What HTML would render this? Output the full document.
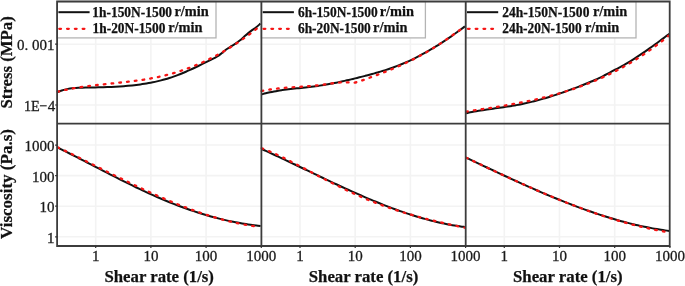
<!DOCTYPE html><html><head><meta charset="utf-8"><style>
html,body{margin:0;padding:0;background:#fff;width:685px;height:286px;overflow:hidden}
svg{display:block;will-change:transform;filter:blur(0.3px)}
text{font-family:"Liberation Serif",serif}
.tk{font-size:15px;fill:#1a1a1a;stroke:#1a1a1a;stroke-width:0.3px}
.ax{font-size:17.5px;font-weight:bold;fill:#111;stroke:#111;stroke-width:0.25px}
.lg{font-size:14px;font-weight:bold;fill:#111;stroke:#111;stroke-width:0.25px}
</style></head><body>
<svg width="685" height="286" viewBox="0 0 685 286">
<path d="M95.69,1.50V246.00 M150.89,1.50V246.00 M206.09,1.50V246.00 M57.10,44.20H261.30 M57.10,105.00H261.30 M57.10,145.07H261.30 M57.10,175.65H261.30 M57.10,206.22H261.30 M57.10,236.80H261.30 M299.99,1.50V246.00 M355.19,1.50V246.00 M410.39,1.50V246.00 M261.40,44.20H465.60 M261.40,105.00H465.60 M261.40,145.07H465.60 M261.40,175.65H465.60 M261.40,206.22H465.60 M261.40,236.80H465.60 M504.29,1.50V246.00 M559.49,1.50V246.00 M614.69,1.50V246.00 M465.70,44.20H669.90 M465.70,105.00H669.90 M465.70,145.07H669.90 M465.70,175.65H669.90 M465.70,206.22H669.90 M465.70,236.80H669.90" stroke="#f3f3f3" stroke-width="1.6" fill="none"/>
<rect x="57.10" y="1.50" width="158.90" height="36.40" fill="#fff" stroke="#b4b4b4" stroke-width="1.3"/>
<rect x="261.40" y="1.50" width="164.00" height="36.40" fill="#fff" stroke="#b4b4b4" stroke-width="1.3"/>
<rect x="465.70" y="1.50" width="170.30" height="36.40" fill="#fff" stroke="#b4b4b4" stroke-width="1.3"/>
<path d="M57.60,92.04 C58.29,91.78 60.36,90.94 61.74,90.50 C63.12,90.06 64.50,89.69 65.88,89.38 C67.26,89.06 68.64,88.82 70.02,88.61 C71.40,88.40 72.78,88.24 74.16,88.11 C75.54,87.98 76.91,87.90 78.29,87.83 C79.67,87.76 81.05,87.72 82.43,87.68 C83.81,87.64 85.19,87.63 86.57,87.61 C87.95,87.59 89.33,87.57 90.71,87.54 C92.09,87.52 93.47,87.49 94.85,87.46 C96.23,87.43 97.61,87.39 98.99,87.35 C100.37,87.31 101.75,87.27 103.13,87.22 C104.51,87.17 105.89,87.12 107.27,87.06 C108.65,87.00 110.02,86.95 111.40,86.89 C112.78,86.83 114.16,86.76 115.54,86.68 C116.92,86.61 118.30,86.53 119.68,86.44 C121.06,86.35 122.44,86.26 123.82,86.16 C125.20,86.06 126.58,85.94 127.96,85.82 C129.34,85.70 130.72,85.57 132.10,85.43 C133.48,85.29 134.86,85.14 136.24,84.97 C137.62,84.80 139.00,84.62 140.38,84.43 C141.76,84.24 143.13,84.03 144.51,83.81 C145.89,83.59 147.27,83.35 148.65,83.10 C150.03,82.85 151.41,82.58 152.79,82.29 C154.17,82.00 155.55,81.70 156.93,81.38 C158.31,81.06 159.69,80.72 161.07,80.36 C162.45,80.00 163.83,79.62 165.21,79.22 C166.59,78.82 167.97,78.40 169.35,77.96 C170.73,77.52 172.11,77.07 173.49,76.60 C174.87,76.12 176.24,75.63 177.62,75.11 C179.00,74.59 180.38,74.06 181.76,73.50 C183.14,72.94 184.52,72.38 185.90,71.78 C187.28,71.19 188.66,70.56 190.04,69.93 C191.42,69.30 192.80,68.65 194.18,67.99 C195.56,67.33 196.94,66.66 198.32,65.98 C199.70,65.31 201.08,64.62 202.46,63.94 C203.84,63.26 205.22,62.57 206.60,61.89 C207.98,61.21 209.35,60.54 210.73,59.86 C212.11,59.18 213.49,58.57 214.87,57.83 C216.25,57.09 217.63,56.35 219.01,55.40 C220.39,54.45 221.77,53.23 223.15,52.12 C224.53,51.00 225.91,49.70 227.29,48.71 C228.67,47.72 230.05,47.04 231.43,46.20 C232.81,45.37 234.19,44.64 235.57,43.70 C236.95,42.76 238.33,41.66 239.71,40.54 C241.09,39.42 242.46,38.17 243.84,36.98 C245.22,35.79 246.60,34.52 247.98,33.38 C249.36,32.24 250.74,31.14 252.12,30.12 C253.50,29.10 254.88,28.32 256.26,27.24 C257.64,26.16 259.71,24.22 260.40,23.62" stroke="#111" stroke-width="2" fill="none" stroke-linejoin="round"/>
<path d="M57.60,91.69 C58.29,91.53 60.37,91.02 61.76,90.70 C63.15,90.39 64.54,90.09 65.93,89.80 C67.32,89.51 68.70,89.24 70.09,88.98 C71.48,88.72 72.87,88.47 74.26,88.23 C75.65,87.99 77.03,87.77 78.42,87.55 C79.81,87.33 81.20,87.11 82.59,86.91 C83.98,86.71 85.36,86.52 86.75,86.33 C88.14,86.14 89.53,85.96 90.92,85.79 C92.31,85.62 93.69,85.45 95.08,85.29 C96.47,85.13 97.86,84.97 99.25,84.82 C100.64,84.66 102.02,84.51 103.41,84.36 C104.80,84.21 106.19,84.07 107.58,83.92 C108.97,83.77 110.35,83.62 111.74,83.48 C113.13,83.34 114.51,83.19 115.90,83.05 C117.29,82.91 118.68,82.76 120.07,82.61 C121.46,82.46 122.84,82.31 124.23,82.15 C125.62,81.99 127.01,81.84 128.40,81.67 C129.79,81.50 131.17,81.33 132.56,81.16 C133.95,80.98 135.34,80.81 136.73,80.62 C138.12,80.43 139.50,80.23 140.89,80.03 C142.28,79.83 143.67,79.61 145.06,79.39 C146.45,79.17 147.83,78.94 149.22,78.70 C150.61,78.46 152.00,78.21 153.39,77.94 C154.78,77.67 156.16,77.39 157.55,77.10 C158.94,76.81 160.32,76.51 161.71,76.19 C163.10,75.87 164.49,75.55 165.88,75.20 C167.27,74.85 168.65,74.49 170.04,74.11 C171.43,73.73 172.82,73.34 174.21,72.93 C175.60,72.52 176.98,72.09 178.37,71.65 C179.76,71.21 181.15,70.75 182.54,70.28 C183.93,69.81 185.31,69.31 186.70,68.81 C188.09,68.31 189.48,67.79 190.87,67.25 C192.26,66.71 193.64,66.15 195.03,65.58 C196.42,65.01 197.81,64.42 199.20,63.82 C200.59,63.22 201.97,62.60 203.36,61.96 C204.75,61.32 206.14,60.66 207.53,59.99 C208.92,59.32 210.30,58.63 211.69,57.92 C213.08,57.21 214.46,56.49 215.85,55.75 C217.24,55.01 218.63,54.25 220.02,53.47 C221.41,52.69 222.79,51.89 224.18,51.08 C225.57,50.27 226.96,49.44 228.35,48.59 C229.74,47.74 231.12,46.88 232.51,45.99 C233.90,45.11 235.29,44.20 236.68,43.28 C238.07,42.36 239.45,41.42 240.84,40.46 C242.23,39.50 243.62,38.53 245.01,37.53 C246.40,36.53 247.78,35.52 249.17,34.48 C250.56,33.44 251.95,32.39 253.34,31.32 C254.73,30.25 256.81,28.59 257.50,28.05" stroke="#f51515" stroke-width="2.3" fill="none" stroke-dasharray="1.7 6.1" stroke-linecap="round"/>
<path d="M261.60,94.37 C262.29,94.18 264.37,93.58 265.75,93.22 C267.13,92.86 268.52,92.54 269.90,92.24 C271.28,91.94 272.67,91.66 274.05,91.40 C275.43,91.14 276.82,90.90 278.20,90.67 C279.58,90.44 280.96,90.25 282.34,90.05 C283.72,89.85 285.11,89.67 286.49,89.50 C287.87,89.33 289.26,89.17 290.64,89.01 C292.02,88.86 293.41,88.71 294.79,88.57 C296.17,88.42 297.56,88.28 298.94,88.14 C300.32,88.00 301.71,87.86 303.09,87.72 C304.47,87.58 305.86,87.43 307.24,87.27 C308.62,87.11 310.01,86.95 311.39,86.78 C312.77,86.61 314.16,86.43 315.54,86.24 C316.92,86.05 318.31,85.84 319.69,85.63 C321.07,85.42 322.45,85.20 323.83,84.97 C325.21,84.74 326.60,84.49 327.98,84.24 C329.36,83.99 330.75,83.73 332.13,83.47 C333.51,83.20 334.90,82.93 336.28,82.65 C337.66,82.37 339.05,82.08 340.43,81.78 C341.81,81.48 343.20,81.18 344.58,80.87 C345.96,80.56 347.35,80.24 348.73,79.92 C350.11,79.60 351.50,79.27 352.88,78.94 C354.26,78.61 355.65,78.27 357.03,77.93 C358.41,77.59 359.80,77.25 361.18,76.90 C362.56,76.55 363.94,76.19 365.32,75.83 C366.70,75.47 368.09,75.11 369.47,74.74 C370.85,74.37 372.24,73.99 373.62,73.60 C375.00,73.21 376.39,72.81 377.77,72.40 C379.15,71.99 380.54,71.58 381.92,71.15 C383.30,70.72 384.69,70.29 386.07,69.84 C387.45,69.39 388.84,68.92 390.22,68.44 C391.60,67.96 392.99,67.47 394.37,66.96 C395.75,66.45 397.14,65.93 398.52,65.39 C399.90,64.85 401.29,64.30 402.67,63.73 C404.05,63.16 405.43,62.56 406.81,61.95 C408.19,61.34 409.58,60.71 410.96,60.06 C412.34,59.41 413.73,58.74 415.11,58.05 C416.49,57.36 417.88,56.66 419.26,55.94 C420.64,55.22 422.03,54.48 423.41,53.72 C424.79,52.96 426.18,52.19 427.56,51.40 C428.94,50.61 430.33,49.80 431.71,48.98 C433.09,48.16 434.48,47.31 435.86,46.46 C437.24,45.61 438.63,44.73 440.01,43.85 C441.39,42.97 442.78,42.06 444.16,41.15 C445.54,40.23 446.92,39.30 448.30,38.36 C449.68,37.42 451.07,36.46 452.45,35.49 C453.83,34.52 455.22,33.54 456.60,32.54 C457.98,31.54 459.37,30.53 460.75,29.51 C462.13,28.49 464.21,26.93 464.90,26.41" stroke="#111" stroke-width="2" fill="none" stroke-linejoin="round"/>
<path d="M261.60,91.03 C262.29,90.89 264.37,90.44 265.75,90.19 C267.13,89.94 268.52,89.71 269.90,89.50 C271.28,89.29 272.67,89.10 274.05,88.92 C275.43,88.74 276.82,88.59 278.20,88.44 C279.58,88.29 280.96,88.16 282.34,88.04 C283.72,87.92 285.11,87.81 286.49,87.71 C287.87,87.61 289.26,87.51 290.64,87.42 C292.02,87.33 293.41,87.24 294.79,87.15 C296.17,87.06 297.56,86.98 298.94,86.89 C300.32,86.80 301.71,86.72 303.09,86.62 C304.47,86.53 305.86,86.43 307.24,86.32 C308.62,86.21 310.01,86.10 311.39,85.97 C312.77,85.84 314.16,85.70 315.54,85.55 C316.92,85.40 318.31,85.23 319.69,85.05 C321.07,84.87 322.45,84.68 323.83,84.49 C325.21,84.30 326.60,84.11 327.98,83.92 C329.36,83.73 330.75,83.55 332.13,83.37 C333.51,83.19 334.90,83.02 336.28,82.86 C337.66,82.70 339.05,82.54 340.43,82.43 C341.81,82.32 343.20,82.21 344.58,82.21 C345.96,82.21 347.35,82.34 348.73,82.42 C350.11,82.50 351.50,82.72 352.88,82.67 C354.26,82.62 355.65,82.41 357.03,82.10 C358.41,81.78 359.80,81.25 361.18,80.78 C362.56,80.31 363.94,79.79 365.32,79.29 C366.70,78.79 368.09,78.29 369.47,77.78 C370.85,77.27 372.24,76.77 373.62,76.25 C375.00,75.73 376.39,75.22 377.77,74.69 C379.15,74.16 380.54,73.64 381.92,73.10 C383.30,72.56 384.69,72.02 386.07,71.47 C387.45,70.92 388.84,70.36 390.22,69.79 C391.60,69.22 392.99,68.65 394.37,68.06 C395.75,67.47 397.14,66.88 398.52,66.27 C399.90,65.66 401.29,65.04 402.67,64.41 C404.05,63.78 405.43,63.13 406.81,62.47 C408.19,61.81 409.58,61.15 410.96,60.46 C412.34,59.77 413.73,59.08 415.11,58.36 C416.49,57.64 417.88,56.91 419.26,56.17 C420.64,55.43 422.03,54.67 423.41,53.89 C424.79,53.11 426.18,52.32 427.56,51.51 C428.94,50.70 430.33,49.88 431.71,49.04 C433.09,48.20 434.48,47.34 435.86,46.46 C437.24,45.58 438.63,44.69 440.01,43.78 C441.39,42.87 442.78,41.94 444.16,41.00 C445.54,40.06 446.92,39.11 448.30,38.15 C449.68,37.19 451.07,36.22 452.45,35.25 C453.83,34.28 455.22,33.31 456.60,32.34 C457.98,31.38 459.37,30.41 460.75,29.46 C462.13,28.51 464.21,27.10 464.90,26.63" stroke="#f51515" stroke-width="2.3" fill="none" stroke-dasharray="1.7 6.1" stroke-linecap="round"/>
<path d="M466.20,113.19 C466.89,113.05 468.97,112.59 470.35,112.32 C471.73,112.04 473.12,111.79 474.50,111.54 C475.88,111.29 477.27,111.05 478.65,110.82 C480.03,110.59 481.42,110.37 482.80,110.15 C484.18,109.94 485.56,109.73 486.94,109.53 C488.32,109.33 489.71,109.13 491.09,108.93 C492.47,108.73 493.86,108.54 495.24,108.35 C496.62,108.16 498.01,107.96 499.39,107.77 C500.77,107.58 502.16,107.38 503.54,107.18 C504.92,106.98 506.31,106.77 507.69,106.56 C509.07,106.35 510.46,106.13 511.84,105.90 C513.22,105.67 514.61,105.44 515.99,105.19 C517.37,104.94 518.76,104.69 520.14,104.42 C521.52,104.15 522.91,103.87 524.29,103.57 C525.67,103.27 527.05,102.96 528.43,102.64 C529.81,102.32 531.20,101.98 532.58,101.63 C533.96,101.28 535.35,100.93 536.73,100.56 C538.11,100.19 539.50,99.80 540.88,99.41 C542.26,99.02 543.65,98.62 545.03,98.21 C546.41,97.80 547.80,97.37 549.18,96.94 C550.56,96.51 551.95,96.07 553.33,95.62 C554.71,95.17 556.10,94.71 557.48,94.25 C558.86,93.79 560.25,93.32 561.63,92.84 C563.01,92.36 564.40,91.88 565.78,91.39 C567.16,90.90 568.54,90.40 569.92,89.90 C571.30,89.40 572.69,88.89 574.07,88.38 C575.45,87.87 576.84,87.35 578.22,86.82 C579.60,86.29 580.99,85.76 582.37,85.21 C583.75,84.66 585.14,84.10 586.52,83.53 C587.90,82.96 589.29,82.38 590.67,81.79 C592.05,81.20 593.44,80.59 594.82,79.97 C596.20,79.35 597.59,78.71 598.97,78.05 C600.35,77.39 601.74,76.72 603.12,76.03 C604.50,75.34 605.89,74.62 607.27,73.89 C608.65,73.16 610.03,72.40 611.41,71.67 C612.79,70.94 614.18,70.22 615.56,69.50 C616.94,68.78 618.33,68.11 619.71,67.38 C621.09,66.64 622.48,65.88 623.86,65.09 C625.24,64.30 626.63,63.48 628.01,62.65 C629.39,61.82 630.78,60.97 632.16,60.10 C633.54,59.23 634.93,58.35 636.31,57.45 C637.69,56.55 639.08,55.62 640.46,54.69 C641.84,53.76 643.23,52.81 644.61,51.85 C645.99,50.89 647.38,49.92 648.76,48.94 C650.14,47.96 651.52,46.96 652.90,45.96 C654.28,44.96 655.67,43.95 657.05,42.94 C658.43,41.92 659.82,40.90 661.20,39.87 C662.58,38.84 663.97,37.81 665.35,36.78 C666.73,35.75 668.81,34.20 669.50,33.68" stroke="#111" stroke-width="2" fill="none" stroke-linejoin="round"/>
<path d="M466.20,111.57 C466.89,111.47 468.95,111.16 470.33,110.95 C471.71,110.75 473.09,110.55 474.47,110.34 C475.85,110.14 477.22,109.93 478.60,109.72 C479.98,109.51 481.35,109.30 482.73,109.09 C484.11,108.88 485.48,108.67 486.86,108.46 C488.24,108.25 489.62,108.03 491.00,107.81 C492.38,107.59 493.75,107.37 495.13,107.15 C496.51,106.93 497.88,106.70 499.26,106.47 C500.64,106.24 502.01,106.02 503.39,105.78 C504.77,105.55 506.15,105.30 507.53,105.06 C508.91,104.82 510.28,104.57 511.66,104.32 C513.04,104.07 514.41,103.82 515.79,103.56 C517.17,103.30 518.54,103.04 519.92,102.77 C521.30,102.50 522.68,102.22 524.06,101.94 C525.44,101.66 526.81,101.38 528.19,101.09 C529.57,100.80 530.94,100.50 532.32,100.20 C533.70,99.90 535.08,99.58 536.46,99.27 C537.84,98.95 539.21,98.64 540.59,98.31 C541.97,97.98 543.34,97.64 544.72,97.30 C546.10,96.95 547.47,96.60 548.85,96.24 C550.23,95.88 551.61,95.52 552.99,95.14 C554.37,94.77 555.74,94.38 557.12,93.99 C558.50,93.60 559.87,93.20 561.25,92.79 C562.63,92.38 564.00,91.97 565.38,91.54 C566.76,91.11 568.14,90.68 569.52,90.23 C570.90,89.78 572.27,89.32 573.65,88.85 C575.03,88.38 576.40,87.91 577.78,87.42 C579.16,86.93 580.53,86.44 581.91,85.93 C583.29,85.42 584.67,84.90 586.05,84.37 C587.43,83.84 588.80,83.29 590.18,82.74 C591.56,82.19 592.93,81.62 594.31,81.04 C595.69,80.46 597.06,79.86 598.44,79.26 C599.82,78.66 601.20,78.05 602.58,77.42 C603.96,76.79 605.33,76.15 606.71,75.49 C608.09,74.83 609.46,74.16 610.84,73.48 C612.22,72.80 613.60,72.10 614.98,71.39 C616.36,70.68 617.73,69.96 619.11,69.22 C620.49,68.48 621.86,67.73 623.24,66.96 C624.62,66.19 625.99,65.41 627.37,64.61 C628.75,63.81 630.13,63.00 631.51,62.17 C632.89,61.34 634.26,60.49 635.64,59.63 C637.02,58.77 638.39,57.90 639.77,57.00 C641.15,56.10 642.52,55.19 643.90,54.26 C645.28,53.33 646.66,52.39 648.04,51.43 C649.42,50.47 650.79,49.49 652.17,48.49 C653.55,47.49 654.92,46.47 656.30,45.44 C657.68,44.41 659.05,43.36 660.43,42.29 C661.81,41.22 663.19,40.14 664.57,39.03 C665.95,37.92 668.01,36.21 668.70,35.65" stroke="#f51515" stroke-width="2.3" fill="none" stroke-dasharray="1.7 6.1" stroke-linecap="round"/>
<path d="M57.70,147.57 C58.39,147.91 60.46,148.93 61.84,149.62 C63.22,150.31 64.60,151.00 65.98,151.69 C67.36,152.38 68.74,153.08 70.12,153.78 C71.50,154.48 72.88,155.19 74.26,155.89 C75.64,156.59 77.02,157.30 78.40,158.01 C79.78,158.72 81.16,159.43 82.54,160.14 C83.92,160.85 85.31,161.57 86.69,162.28 C88.07,162.99 89.45,163.71 90.83,164.42 C92.21,165.13 93.59,165.84 94.97,166.56 C96.35,167.28 97.73,168.00 99.11,168.71 C100.49,169.43 101.87,170.14 103.25,170.85 C104.63,171.56 106.01,172.27 107.39,172.98 C108.77,173.69 110.15,174.39 111.53,175.10 C112.91,175.81 114.29,176.51 115.67,177.21 C117.05,177.91 118.43,178.61 119.81,179.31 C121.19,180.01 122.57,180.70 123.95,181.39 C125.33,182.08 126.71,182.76 128.09,183.44 C129.47,184.12 130.85,184.80 132.23,185.47 C133.61,186.14 135.00,186.82 136.38,187.48 C137.76,188.14 139.14,188.80 140.52,189.45 C141.90,190.10 143.28,190.76 144.66,191.40 C146.04,192.04 147.42,192.67 148.80,193.30 C150.18,193.93 151.56,194.55 152.94,195.17 C154.32,195.79 155.70,196.40 157.08,197.00 C158.46,197.60 159.84,198.19 161.22,198.78 C162.60,199.37 163.98,199.95 165.36,200.52 C166.74,201.09 168.12,201.66 169.50,202.22 C170.88,202.78 172.26,203.33 173.64,203.87 C175.02,204.41 176.40,204.94 177.78,205.46 C179.16,205.99 180.54,206.51 181.92,207.02 C183.30,207.53 184.69,208.03 186.07,208.52 C187.45,209.01 188.83,209.50 190.21,209.97 C191.59,210.44 192.97,210.91 194.35,211.37 C195.73,211.83 197.11,212.27 198.49,212.71 C199.87,213.15 201.25,213.59 202.63,214.01 C204.01,214.43 205.39,214.85 206.77,215.25 C208.15,215.65 209.53,216.05 210.91,216.43 C212.29,216.81 213.67,217.19 215.05,217.56 C216.43,217.93 217.81,218.28 219.19,218.63 C220.57,218.98 221.95,219.31 223.33,219.64 C224.71,219.97 226.09,220.29 227.47,220.60 C228.85,220.91 230.23,221.20 231.61,221.49 C232.99,221.78 234.38,222.05 235.76,222.32 C237.14,222.59 238.52,222.84 239.90,223.09 C241.28,223.34 242.66,223.58 244.04,223.80 C245.42,224.03 246.80,224.24 248.18,224.44 C249.56,224.64 250.94,224.84 252.32,225.02 C253.70,225.20 255.08,225.37 256.46,225.53 C257.84,225.69 259.91,225.91 260.60,225.98" stroke="#111" stroke-width="2" fill="none" stroke-linejoin="round"/>
<path d="M57.70,147.26 C58.39,147.59 60.45,148.58 61.83,149.24 C63.20,149.90 64.58,150.57 65.95,151.24 C67.33,151.91 68.70,152.58 70.08,153.26 C71.46,153.94 72.83,154.61 74.21,155.29 C75.58,155.97 76.95,156.65 78.33,157.33 C79.70,158.01 81.08,158.69 82.46,159.37 C83.84,160.05 85.22,160.74 86.59,161.43 C87.97,162.12 89.33,162.80 90.71,163.49 C92.08,164.18 93.46,164.86 94.84,165.55 C96.22,166.24 97.59,166.92 98.97,167.61 C100.34,168.30 101.72,168.98 103.09,169.67 C104.47,170.36 105.84,171.04 107.22,171.73 C108.59,172.41 109.97,173.10 111.34,173.78 C112.72,174.46 114.09,175.14 115.47,175.82 C116.85,176.50 118.22,177.18 119.60,177.86 C120.97,178.54 122.34,179.21 123.72,179.88 C125.09,180.55 126.47,181.22 127.85,181.89 C129.23,182.56 130.60,183.22 131.98,183.88 C133.35,184.54 134.72,185.21 136.10,185.86 C137.47,186.52 138.85,187.16 140.23,187.81 C141.61,188.46 142.99,189.11 144.36,189.75 C145.74,190.39 147.10,191.03 148.48,191.66 C149.85,192.29 151.23,192.92 152.61,193.54 C153.99,194.16 155.37,194.78 156.74,195.40 C158.12,196.02 159.49,196.63 160.86,197.23 C162.24,197.83 163.61,198.43 164.99,199.02 C166.37,199.61 167.75,200.20 169.12,200.78 C170.50,201.36 171.87,201.94 173.24,202.51 C174.62,203.08 175.99,203.63 177.37,204.19 C178.75,204.75 180.12,205.30 181.50,205.84 C182.88,206.38 184.25,206.91 185.62,207.44 C187.00,207.97 188.37,208.49 189.75,209.00 C191.13,209.51 192.50,210.02 193.88,210.52 C195.25,211.02 196.62,211.50 198.00,211.98 C199.38,212.46 200.75,212.94 202.13,213.40 C203.51,213.86 204.88,214.31 206.26,214.76 C207.63,215.20 209.00,215.64 210.38,216.07 C211.75,216.50 213.13,216.92 214.51,217.33 C215.88,217.74 217.25,218.13 218.63,218.52 C220.00,218.91 221.38,219.29 222.76,219.66 C224.14,220.03 225.51,220.38 226.89,220.73 C228.26,221.07 229.63,221.40 231.01,221.73 C232.38,222.06 233.76,222.38 235.14,222.68 C236.52,222.98 237.90,223.27 239.27,223.55 C240.65,223.83 242.01,224.09 243.39,224.35 C244.76,224.60 246.14,224.85 247.52,225.08 C248.90,225.31 250.28,225.53 251.65,225.74 C253.03,225.95 254.40,226.14 255.77,226.32 C257.14,226.50 259.21,226.74 259.90,226.82" stroke="#f51515" stroke-width="2.3" fill="none" stroke-dasharray="1.7 6.1" stroke-linecap="round"/>
<path d="M261.70,149.05 C262.39,149.36 264.46,150.29 265.84,150.92 C267.22,151.55 268.61,152.18 269.99,152.82 C271.37,153.46 272.75,154.10 274.13,154.74 C275.51,155.38 276.90,156.02 278.28,156.67 C279.66,157.31 281.04,157.96 282.42,158.61 C283.80,159.26 285.19,159.91 286.57,160.57 C287.95,161.22 289.33,161.88 290.71,162.54 C292.09,163.20 293.48,163.86 294.86,164.52 C296.24,165.18 297.62,165.84 299.00,166.50 C300.38,167.16 301.77,167.82 303.15,168.48 C304.53,169.14 305.91,169.81 307.29,170.47 C308.67,171.13 310.06,171.80 311.44,172.46 C312.82,173.12 314.20,173.78 315.58,174.44 C316.96,175.10 318.35,175.76 319.73,176.42 C321.11,177.08 322.49,177.74 323.87,178.40 C325.25,179.06 326.64,179.71 328.02,180.36 C329.40,181.01 330.78,181.67 332.16,182.32 C333.54,182.97 334.93,183.61 336.31,184.26 C337.69,184.91 339.07,185.55 340.45,186.19 C341.83,186.83 343.22,187.47 344.60,188.10 C345.98,188.73 347.36,189.36 348.74,189.99 C350.12,190.62 351.51,191.24 352.89,191.86 C354.27,192.48 355.65,193.10 357.03,193.71 C358.41,194.32 359.80,194.93 361.18,195.53 C362.56,196.13 363.94,196.74 365.32,197.33 C366.70,197.92 368.09,198.51 369.47,199.09 C370.85,199.67 372.23,200.26 373.61,200.83 C374.99,201.40 376.38,201.97 377.76,202.53 C379.14,203.09 380.52,203.65 381.90,204.20 C383.28,204.75 384.67,205.29 386.05,205.83 C387.43,206.37 388.81,206.90 390.19,207.42 C391.57,207.94 392.96,208.46 394.34,208.97 C395.72,209.48 397.10,209.98 398.48,210.47 C399.86,210.96 401.25,211.45 402.63,211.93 C404.01,212.41 405.39,212.89 406.77,213.35 C408.15,213.81 409.54,214.27 410.92,214.71 C412.30,215.16 413.68,215.59 415.06,216.02 C416.44,216.45 417.83,216.87 419.21,217.28 C420.59,217.69 421.97,218.09 423.35,218.48 C424.73,218.87 426.12,219.25 427.50,219.62 C428.88,219.99 430.26,220.36 431.64,220.71 C433.02,221.06 434.41,221.40 435.79,221.73 C437.17,222.06 438.55,222.38 439.93,222.69 C441.31,223.00 442.70,223.30 444.08,223.58 C445.46,223.87 446.84,224.14 448.22,224.40 C449.60,224.66 450.99,224.91 452.37,225.15 C453.75,225.39 455.13,225.62 456.51,225.83 C457.89,226.05 459.28,226.25 460.66,226.44 C462.04,226.63 464.11,226.88 464.80,226.97" stroke="#111" stroke-width="2" fill="none" stroke-linejoin="round"/>
<path d="M261.70,148.28 C262.39,148.55 264.46,149.32 265.84,149.87 C267.22,150.42 268.61,150.99 269.99,151.58 C271.37,152.17 272.75,152.78 274.13,153.40 C275.51,154.02 276.90,154.67 278.28,155.32 C279.66,155.97 281.04,156.64 282.42,157.31 C283.80,157.98 285.19,158.67 286.57,159.36 C287.95,160.05 289.33,160.75 290.71,161.46 C292.09,162.17 293.48,162.88 294.86,163.59 C296.24,164.31 297.62,165.03 299.00,165.75 C300.38,166.47 301.77,167.19 303.15,167.92 C304.53,168.65 305.91,169.38 307.29,170.11 C308.67,170.84 310.06,171.56 311.44,172.29 C312.82,173.02 314.20,173.74 315.58,174.47 C316.96,175.20 318.35,175.93 319.73,176.65 C321.11,177.37 322.49,178.09 323.87,178.80 C325.25,179.52 326.64,180.23 328.02,180.94 C329.40,181.65 330.78,182.36 332.16,183.06 C333.54,183.76 334.93,184.46 336.31,185.15 C337.69,185.84 339.07,186.53 340.45,187.21 C341.83,187.89 343.22,188.56 344.60,189.23 C345.98,189.90 347.36,190.56 348.74,191.22 C350.12,191.88 351.51,192.52 352.89,193.16 C354.27,193.80 355.65,194.43 357.03,195.05 C358.41,195.67 359.80,196.28 361.18,196.88 C362.56,197.48 363.94,198.07 365.32,198.65 C366.70,199.23 368.09,199.81 369.47,200.37 C370.85,200.93 372.23,201.48 373.61,202.02 C374.99,202.56 376.38,203.09 377.76,203.62 C379.14,204.15 380.52,204.66 381.90,205.17 C383.28,205.68 384.67,206.18 386.05,206.67 C387.43,207.16 388.81,207.64 390.19,208.11 C391.57,208.58 392.96,209.05 394.34,209.51 C395.72,209.97 397.10,210.42 398.48,210.86 C399.86,211.30 401.25,211.74 402.63,212.17 C404.01,212.60 405.39,213.03 406.77,213.44 C408.15,213.85 409.54,214.26 410.92,214.66 C412.30,215.06 413.68,215.45 415.06,215.84 C416.44,216.23 417.83,216.61 419.21,216.99 C420.59,217.37 421.97,217.73 423.35,218.10 C424.73,218.47 426.12,218.83 427.50,219.18 C428.88,219.53 430.26,219.89 431.64,220.23 C433.02,220.57 434.41,220.91 435.79,221.24 C437.17,221.57 438.55,221.91 439.93,222.23 C441.31,222.55 442.70,222.87 444.08,223.19 C445.46,223.51 446.84,223.82 448.22,224.13 C449.60,224.44 450.99,224.74 452.37,225.04 C453.75,225.34 455.13,225.64 456.51,225.93 C457.89,226.22 459.28,226.51 460.66,226.80 C462.04,227.09 464.11,227.52 464.80,227.66" stroke="#f51515" stroke-width="2.3" fill="none" stroke-dasharray="1.7 6.1" stroke-linecap="round"/>
<path d="M466.20,157.65 C466.89,157.98 468.96,158.96 470.34,159.62 C471.72,160.28 473.11,160.94 474.49,161.60 C475.87,162.26 477.25,162.91 478.63,163.56 C480.01,164.22 481.40,164.88 482.78,165.53 C484.16,166.19 485.54,166.84 486.92,167.49 C488.30,168.14 489.69,168.80 491.07,169.45 C492.45,170.10 493.83,170.75 495.21,171.40 C496.59,172.05 497.98,172.69 499.36,173.34 C500.74,173.99 502.12,174.63 503.50,175.27 C504.88,175.91 506.27,176.55 507.65,177.19 C509.03,177.83 510.41,178.48 511.79,179.11 C513.17,179.75 514.56,180.37 515.94,181.00 C517.32,181.63 518.70,182.26 520.08,182.89 C521.46,183.51 522.85,184.13 524.23,184.75 C525.61,185.37 526.99,186.00 528.37,186.61 C529.75,187.23 531.14,187.83 532.52,188.44 C533.90,189.05 535.28,189.66 536.66,190.26 C538.04,190.86 539.43,191.46 540.81,192.05 C542.19,192.64 543.57,193.23 544.95,193.82 C546.33,194.41 547.72,194.99 549.10,195.57 C550.48,196.15 551.86,196.73 553.24,197.30 C554.62,197.87 556.01,198.44 557.39,199.00 C558.77,199.56 560.15,200.12 561.53,200.68 C562.91,201.24 564.30,201.79 565.68,202.33 C567.06,202.87 568.44,203.41 569.82,203.94 C571.20,204.47 572.59,205.00 573.97,205.53 C575.35,206.06 576.73,206.57 578.11,207.09 C579.49,207.61 580.88,208.12 582.26,208.62 C583.64,209.12 585.02,209.62 586.40,210.11 C587.78,210.60 589.17,211.08 590.55,211.56 C591.93,212.04 593.31,212.51 594.69,212.98 C596.07,213.45 597.46,213.91 598.84,214.36 C600.22,214.82 601.60,215.27 602.98,215.71 C604.36,216.15 605.75,216.58 607.13,217.01 C608.51,217.44 609.89,217.86 611.27,218.27 C612.65,218.68 614.04,219.09 615.42,219.49 C616.80,219.89 618.18,220.28 619.56,220.67 C620.94,221.05 622.33,221.43 623.71,221.80 C625.09,222.17 626.47,222.53 627.85,222.89 C629.23,223.24 630.62,223.59 632.00,223.93 C633.38,224.27 634.76,224.60 636.14,224.92 C637.52,225.24 638.91,225.56 640.29,225.86 C641.67,226.16 643.05,226.45 644.43,226.74 C645.81,227.03 647.20,227.31 648.58,227.58 C649.96,227.85 651.34,228.11 652.72,228.36 C654.10,228.61 655.49,228.86 656.87,229.09 C658.25,229.32 659.63,229.54 661.01,229.76 C662.39,229.97 663.78,230.18 665.16,230.38 C666.54,230.58 668.61,230.85 669.30,230.94" stroke="#111" stroke-width="2" fill="none" stroke-linejoin="round"/>
<path d="M466.20,157.67 C466.89,158.00 468.96,158.99 470.34,159.65 C471.72,160.31 473.11,160.97 474.49,161.63 C475.87,162.29 477.25,162.94 478.63,163.60 C480.01,164.25 481.40,164.91 482.78,165.56 C484.16,166.21 485.54,166.87 486.92,167.52 C488.30,168.17 489.69,168.83 491.07,169.48 C492.45,170.13 493.83,170.77 495.21,171.42 C496.59,172.07 497.98,172.72 499.36,173.36 C500.74,174.01 502.12,174.65 503.50,175.29 C504.88,175.93 506.27,176.56 507.65,177.20 C509.03,177.84 510.41,178.48 511.79,179.11 C513.17,179.74 514.56,180.37 515.94,181.00 C517.32,181.63 518.70,182.26 520.08,182.88 C521.46,183.50 522.85,184.12 524.23,184.74 C525.61,185.36 526.99,185.97 528.37,186.58 C529.75,187.19 531.14,187.80 532.52,188.41 C533.90,189.02 535.28,189.62 536.66,190.22 C538.04,190.82 539.43,191.43 540.81,192.02 C542.19,192.62 543.57,193.20 544.95,193.79 C546.33,194.38 547.72,194.96 549.10,195.54 C550.48,196.12 551.86,196.69 553.24,197.26 C554.62,197.83 556.01,198.41 557.39,198.97 C558.77,199.53 560.15,200.09 561.53,200.65 C562.91,201.21 564.30,201.75 565.68,202.30 C567.06,202.85 568.44,203.39 569.82,203.93 C571.20,204.47 572.59,205.00 573.97,205.53 C575.35,206.06 576.73,206.58 578.11,207.10 C579.49,207.62 580.88,208.14 582.26,208.65 C583.64,209.16 585.02,209.66 586.40,210.16 C587.78,210.66 589.17,211.15 590.55,211.64 C591.93,212.13 593.31,212.60 594.69,213.08 C596.07,213.56 597.46,214.03 598.84,214.50 C600.22,214.97 601.60,215.42 602.98,215.87 C604.36,216.32 605.75,216.78 607.13,217.22 C608.51,217.66 609.89,218.09 611.27,218.52 C612.65,218.95 614.04,219.37 615.42,219.79 C616.80,220.21 618.18,220.62 619.56,221.02 C620.94,221.42 622.33,221.82 623.71,222.21 C625.09,222.60 626.47,222.97 627.85,223.35 C629.23,223.72 630.62,224.10 632.00,224.46 C633.38,224.82 634.76,225.17 636.14,225.52 C637.52,225.87 638.91,226.21 640.29,226.54 C641.67,226.87 643.05,227.19 644.43,227.51 C645.81,227.82 647.20,228.13 648.58,228.43 C649.96,228.73 651.34,229.03 652.72,229.31 C654.10,229.59 655.49,229.87 656.87,230.14 C658.25,230.41 659.63,230.67 661.01,230.92 C662.39,231.17 663.78,231.41 665.16,231.65 C666.54,231.89 668.61,232.22 669.30,232.33" stroke="#f51515" stroke-width="2.3" fill="none" stroke-dasharray="1.7 6.1" stroke-linecap="round"/>
<path d="M57.10,1.50H669.70V246.00H57.10Z M57.10,123.70H669.70 M261.40,1.50V246.00 M465.70,1.50V246.00" stroke="#3c3c3c" stroke-width="1.8" fill="none"/>
<path d="M95.69,246.00V248.00 M150.89,246.00V248.00 M206.09,246.00V248.00 M261.30,246.00V248.00 M299.99,246.00V248.00 M355.19,246.00V248.00 M410.39,246.00V248.00 M465.60,246.00V248.00 M504.29,246.00V248.00 M559.49,246.00V248.00 M614.69,246.00V248.00 M669.90,246.00V248.00 M55.10,44.20H57.10 M55.10,105.00H57.10 M55.10,145.07H57.10 M55.10,175.65H57.10 M55.10,206.22H57.10 M55.10,236.80H57.10" stroke="#333" stroke-width="1.2" fill="none"/>
<path d="M58.40,12.2H89.60" stroke="#111" stroke-width="2"/>
<path d="M59.30,28.8H87.10" stroke="#f51515" stroke-width="2.3" stroke-dasharray="1.7 6.1" stroke-linecap="round"/>
<text class="lg" x="92.30" y="16.90" textLength="79.80" lengthAdjust="spacingAndGlyphs">1h-150N-1500</text>
<text class="lg" x="174.40" y="15.80" style="font-size:15px" textLength="34.3" lengthAdjust="spacingAndGlyphs">r/min</text>
<text class="lg" x="92.60" y="33.20" textLength="72.80" lengthAdjust="spacingAndGlyphs">1h-20N-1500</text>
<text class="lg" x="168.20" y="32.10" style="font-size:15px" textLength="34.3" lengthAdjust="spacingAndGlyphs">r/min</text>
<path d="M262.70,12.2H293.90" stroke="#111" stroke-width="2"/>
<path d="M263.60,28.8H291.40" stroke="#f51515" stroke-width="2.3" stroke-dasharray="1.7 6.1" stroke-linecap="round"/>
<text class="lg" x="298.00" y="16.90" textLength="79.70" lengthAdjust="spacingAndGlyphs">6h-150N-1500</text>
<text class="lg" x="379.70" y="15.80" style="font-size:15px" textLength="34.3" lengthAdjust="spacingAndGlyphs">r/min</text>
<text class="lg" x="298.00" y="33.20" textLength="72.80" lengthAdjust="spacingAndGlyphs">6h-20N-1500</text>
<text class="lg" x="373.10" y="32.10" style="font-size:15px" textLength="34.3" lengthAdjust="spacingAndGlyphs">r/min</text>
<path d="M467.00,12.2H498.20" stroke="#111" stroke-width="2"/>
<path d="M467.90,28.8H495.70" stroke="#f51515" stroke-width="2.3" stroke-dasharray="1.7 6.1" stroke-linecap="round"/>
<text class="lg" x="502.30" y="16.90" textLength="87.10" lengthAdjust="spacingAndGlyphs">24h-150N-1500</text>
<text class="lg" x="592.90" y="15.80" style="font-size:15px" textLength="34.3" lengthAdjust="spacingAndGlyphs">r/min</text>
<text class="lg" x="502.30" y="33.20" textLength="79.40" lengthAdjust="spacingAndGlyphs">24h-20N-1500</text>
<text class="lg" x="584.90" y="32.10" style="font-size:15px" textLength="34.3" lengthAdjust="spacingAndGlyphs">r/min</text>
<text class="tk" x="54.6" y="50.20" text-anchor="end">0. 001</text>
<text class="tk" x="23.9" y="111.00" textLength="15.8" lengthAdjust="spacingAndGlyphs">1E</text>
<path d="M39.9,105.80H46.7" stroke="#1a1a1a" stroke-width="1.1"/>
<text class="tk" x="55.2" y="111.00" text-anchor="end">4</text>
<text class="tk" x="54.6" y="151.07" text-anchor="end">1000</text>
<text class="tk" x="54.6" y="181.65" text-anchor="end">100</text>
<text class="tk" x="54.6" y="212.22" text-anchor="end">10</text>
<text class="tk" x="54.6" y="242.80" text-anchor="end">1</text>
<text class="tk" x="95.69" y="261" text-anchor="middle">1</text>
<text class="tk" x="150.89" y="261" text-anchor="middle">10</text>
<text class="tk" x="206.09" y="261" text-anchor="middle">100</text>
<text class="tk" x="261.30" y="261" text-anchor="middle">1000</text>
<text class="ax" x="159.20" y="281.6" text-anchor="middle" textLength="109.5" lengthAdjust="spacingAndGlyphs">Shear rate (1/s)</text>
<text class="tk" x="299.99" y="261" text-anchor="middle">1</text>
<text class="tk" x="355.19" y="261" text-anchor="middle">10</text>
<text class="tk" x="410.39" y="261" text-anchor="middle">100</text>
<text class="tk" x="465.60" y="261" text-anchor="middle">1000</text>
<text class="ax" x="363.50" y="281.6" text-anchor="middle" textLength="109.5" lengthAdjust="spacingAndGlyphs">Shear rate (1/s)</text>
<text class="tk" x="504.29" y="261" text-anchor="middle">1</text>
<text class="tk" x="559.49" y="261" text-anchor="middle">10</text>
<text class="tk" x="614.69" y="261" text-anchor="middle">100</text>
<text class="tk" x="669.90" y="261" text-anchor="middle">1000</text>
<text class="ax" x="567.80" y="281.6" text-anchor="middle" textLength="109.5" lengthAdjust="spacingAndGlyphs">Shear rate (1/s)</text>
<text class="ax" transform="translate(11.7,62.4) rotate(-90)" text-anchor="middle" textLength="92.3" lengthAdjust="spacingAndGlyphs">Stress (MPa)</text>
<text class="ax" transform="translate(11.7,184) rotate(-90)" text-anchor="middle" textLength="109.8" lengthAdjust="spacingAndGlyphs">Viscosity (Pa.s)</text>
</svg></body></html>
